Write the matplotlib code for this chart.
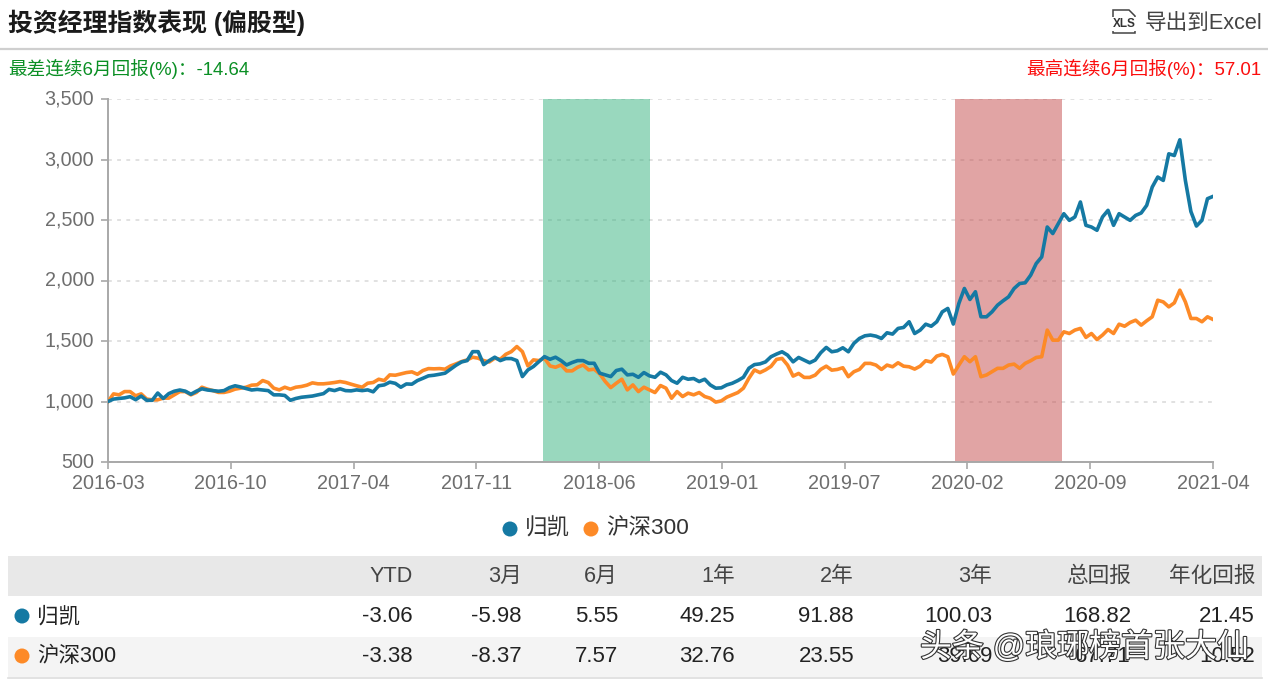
import matplotlib
matplotlib.use("Agg")
import matplotlib.pyplot as plt
import matplotlib.patheffects as pe
from matplotlib.patches import Rectangle, Circle, Polygon
import numpy as np

plt.rcParams['font.family'] = ['Liberation Sans', 'Noto Sans CJK SC', 'DejaVu Sans']

W, H = 1268, 683

guikai = [
 1000,1020,1025,1030,1040,1015,1045,1010,1010,1070,1025,1065,1085,1095,1085,1060,1085,1105,1095,1090,
 1085,1090,1115,1130,1120,1107,1095,1100,1095,1090,1055,1055,1050,1010,1025,1035,1040,1045,1055,1065,
 1100,1090,1105,1090,1088,1096,1090,1096,1080,1130,1137,1160,1150,1118,1145,1143,1173,1192,1212,1217,
 1225,1234,1267,1300,1327,1338,1412,1412,1305,1338,1366,1338,1355,1355,1338,1206,1261,1289,1330,1371,
 1349,1366,1338,1302,1322,1338,1338,1316,1316,1234,1220,1206,1256,1267,1220,1225,1200,1239,1212,1200,
 1242,1220,1173,1151,1200,1184,1190,1165,1184,1137,1110,1113,1137,1151,1173,1200,1275,1305,1311,1327,
 1370,1392,1411,1383,1328,1364,1342,1320,1342,1403,1447,1411,1419,1444,1411,1480,1521,1543,1549,1540,
 1521,1568,1557,1604,1612,1659,1562,1590,1639,1622,1659,1741,1769,1640,1810,1934,1843,1907,1700,1700,
 1741,1796,1832,1865,1934,1975,1981,2044,2140,2195,2442,2388,2470,2552,2497,2525,2649,2456,2442,2415,
 2525,2580,2456,2552,2525,2497,2538,2558,2621,2772,2855,2827,3047,3033,3163,2827,2570,2450,2497,2676,
 2695]

hs300 = [
 1000,1063,1055,1082,1082,1047,1063,1020,1014,1014,1028,1028,1055,1082,1082,1055,1075,1118,1102,1090,
 1075,1075,1085,1102,1110,1118,1135,1138,1173,1157,1110,1096,1118,1102,1118,1124,1135,1154,1146,1146,
 1151,1157,1165,1157,1143,1130,1118,1151,1157,1184,1173,1220,1217,1228,1239,1245,1225,1256,1272,1270,
 1272,1267,1294,1311,1330,1344,1366,1358,1338,1327,1358,1349,1390,1412,1454,1412,1294,1344,1338,1358,
 1294,1283,1302,1253,1253,1283,1302,1261,1267,1228,1165,1115,1151,1184,1096,1137,1082,1118,1096,1074,
 1132,1110,1027,1082,1041,1069,1055,1074,1041,1027,995,1005,1036,1055,1074,1110,1192,1261,1239,1261,
 1290,1348,1356,1301,1210,1232,1199,1199,1218,1265,1292,1259,1265,1279,1205,1246,1265,1315,1315,1301,
 1265,1301,1287,1320,1292,1287,1268,1292,1337,1326,1375,1389,1370,1227,1301,1370,1329,1370,1205,1219,
 1246,1274,1274,1301,1309,1274,1315,1337,1364,1370,1590,1507,1507,1576,1562,1590,1604,1530,1562,1512,
 1549,1595,1562,1639,1622,1653,1672,1631,1667,1700,1837,1823,1782,1815,1920,1823,1686,1686,1659,1700,
 1678]

x_labels = ['2016-03','2016-10','2017-04','2017-11','2018-06','2019-01','2019-07','2020-02','2020-09','2021-04']
y_ticks = [500,1000,1500,2000,2500,3000,3500]
worst_band = (78.73, 98.1)
best_band = (153.3, 172.67)

col_headers = ['YTD','3月','6月','1年','2年','3年','总回报','年化回报']
row_names = ['归凯','沪深300']
row_guikai = ['-3.06','-5.98','5.55','49.25','91.88','100.03','168.82','21.45']
row_hs300 = ['-3.38','-8.37','7.57','32.76','23.55','39.69','67.71','10.52']

BLUE = '#1579a3'
ORANGE = '#fd8a27'
GRAY = '#6e6e6e'

fig = plt.figure(figsize=(W/100, H/100), dpi=100, facecolor='white')
ax = fig.add_axes([108/W, 1-462/H, 1105/W, 363/H])
x = np.arange(len(guikai))
ax.set_xlim(0, len(guikai)-1)
ax.set_ylim(500, 3500)
ax.yaxis.grid(True, color='#d8d8d8', lw=1.1, ls=(0, (2.5, 3.5)), zorder=1)
ax.set_axisbelow(True)
ax.axvspan(*worst_band, color='#34b27f', alpha=.5, lw=0, zorder=2)
ax.axvspan(*best_band, color='#c54a4a', alpha=.5, lw=0, zorder=2)
ax.plot(x, hs300, color=ORANGE, lw=2.6, zorder=3, solid_joinstyle='round')
ax.plot(x, guikai, color=BLUE, lw=2.6, zorder=4, solid_joinstyle='round')
for s in ('top', 'right'):
    ax.spines[s].set_visible(False)
for s in ('left', 'bottom'):
    ax.spines[s].set_color('#a8a8a8')
    ax.spines[s].set_linewidth(1.4)
ax.set_yticks(y_ticks)
ax.set_yticklabels([f'{v:,}' for v in y_ticks])
ax.set_xticks(np.linspace(0, len(guikai)-1, len(x_labels)))
ax.set_xticklabels(x_labels)
ax.tick_params(axis='both', colors='#a8a8a8', labelcolor=GRAY, labelsize=14.2, length=5, width=1.2, pad=3.5)
ax.tick_params(axis='y', pad=5)
for t in ax.get_yticklabels():
    t.set_verticalalignment('center')

ov = fig.add_axes([0, 0, 1, 1], zorder=10)
ov.set_xlim(0, W)
ov.set_ylim(H, 0)
ov.axis('off')
ov.patch.set_alpha(0)

ov.text(8, 23, '投资经理指数表现 (偏股型)', fontsize=17.9, fontweight='bold', color='#1a1a1a', va='center')
ov.plot([0, W], [49, 49], color='#cfcfcf', lw=1.6)
ov.text(1262, 23, '导出到Excel', fontsize=15.6, color='#444444', va='center', ha='right')
ov.add_patch(Polygon([[1113,10],[1129,10],[1135,16],[1135,33],[1113,33]], closed=True, fc='white', ec='#444444', lw=1.1))
ov.text(1124, 24, 'XLS', fontsize=8.5, fontweight='bold', color='#333333', ha='center', va='center',
        bbox=dict(fc='white', ec='none', pad=0.6))
ov.text(8, 69, '最差连续6月回报(%)：-14.64', fontsize=13.4, color='#0a8f24', va='center')
ov.text(1261, 69, '最高连续6月回报(%)：57.01', fontsize=13.4, color='#fb0d0d', va='center', ha='right')

# legend
ov.add_patch(Circle((510, 529), 7.5, fc=BLUE, ec='none'))
ov.text(525, 528, row_names[0], fontsize=16.2, color='#333333', va='center')
ov.add_patch(Circle((591, 529), 7.5, fc=ORANGE, ec='none'))
ov.text(606, 528, row_names[1], fontsize=16.2, color='#333333', va='center')

# table
ov.add_patch(Rectangle((8, 556), 1254, 40, fc='#e8e8e8', ec='none'))
ov.add_patch(Rectangle((8, 637), 1254, 40, fc='#f4f4f4', ec='none'))
ov.plot([8, 1262], [677.5, 677.5], color='#dddddd', lw=1.2)
col_right = [413, 522, 618, 735, 854, 992, 1131, 1255]
for r, hd, a, b in zip(col_right, col_headers, row_guikai, row_hs300):
    ov.text(r, 576, hd, fontsize=15.6, color='#444444', ha='right', va='center')
    ov.text(r, 617, a, fontsize=16, color='#222222', ha='right', va='center')
    ov.text(r, 657, b, fontsize=16, color='#222222', ha='right', va='center')
ov.add_patch(Circle((22, 616), 7.5, fc=BLUE, ec='none'))
ov.text(37, 617, row_names[0], fontsize=15.5, color='#222222', va='center')
ov.add_patch(Circle((22, 656), 7.5, fc=ORANGE, ec='none'))
ov.text(37, 657, row_names[1], fontsize=15.5, color='#222222', va='center')

# watermark
ov.text(920, 648, '头条 @琅琊榜首张大仙', fontsize=23, color='white', va='center',
        path_effects=[pe.withStroke(linewidth=1.6, foreground='#333333')])

fig.savefig('out.png', dpi=100, facecolor='white')
